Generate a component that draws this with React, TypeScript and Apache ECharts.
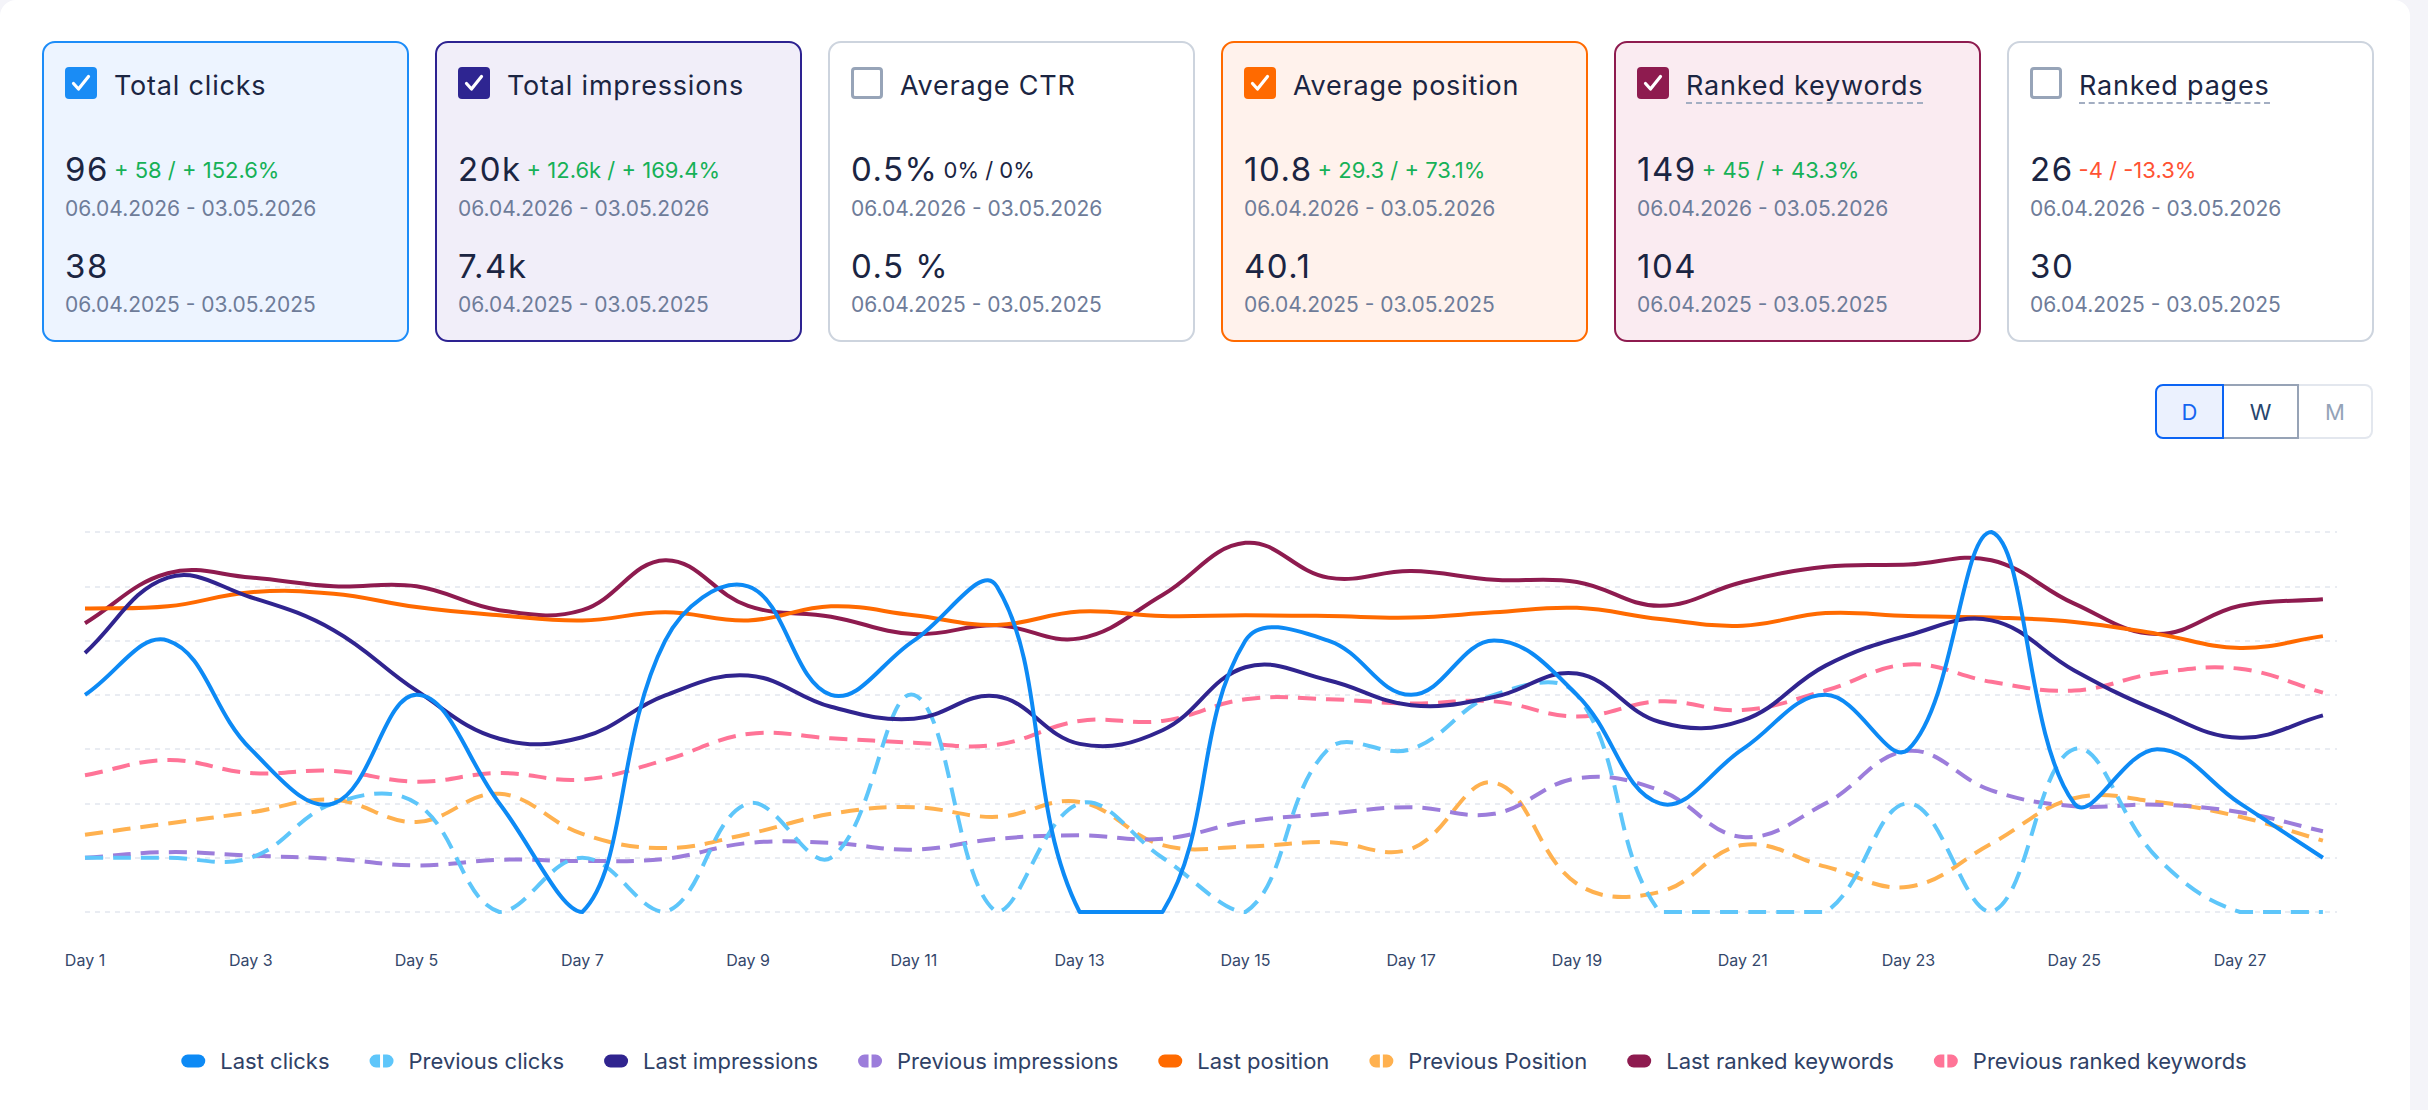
import React, { useEffect, useRef } from 'react';
import * as echarts from 'echarts';

// ---- data -------------------------------------------------------------
const days = [
  'Day 1', 'Day 2', 'Day 3', 'Day 4', 'Day 5', 'Day 6', 'Day 7', 'Day 8', 'Day 9', 'Day 10',
  'Day 11', 'Day 12', 'Day 13', 'Day 14', 'Day 15', 'Day 16', 'Day 17', 'Day 18', 'Day 19', 'Day 20',
  'Day 21', 'Day 22', 'Day 23', 'Day 24', 'Day 25', 'Day 26', 'Day 27', 'Day 28',
];

const lastClicks = [4, 5, 3, 2, 4, 2, 0, 5, 6, 4, 5, 6, 0, 0, 5, 5, 4, 5, 4, 2, 3, 4, 3, 7, 2, 3, 2, 1];
const previousClicks = [1, 1, 1, 2, 2, 0, 1, 0, 2, 1, 4, 0, 2, 1, 0, 3, 3, 4, 4, 0, 0, 0, 2, 0, 3, 1, 0, 0];

const lastImpressions = [818, 1056, 994, 890, 699, 547, 552, 684, 747, 648, 610, 681, 531, 574, 773, 732, 653, 679, 753, 600, 605, 778, 874, 921, 763, 636, 550, 621];
const previousImpressions = [171, 189, 178, 168, 147, 165, 161, 168, 218, 218, 197, 231, 242, 231, 285, 310, 331, 310, 422, 384, 237, 343, 509, 384, 334, 339, 315, 255];

const lastPosition = [10.3, 10.0, 8.1, 8.3, 10.1, 11.2, 11.9, 10.8, 11.9, 10.0, 11.2, 12.5, 10.7, 11.3, 11.2, 11.3, 11.5, 10.8, 10.2, 11.7, 12.6, 10.9, 11.3, 11.5, 12.1, 13.7, 15.6, 14.0];
const previousPosition = [40.7, 39.2, 37.7, 36.0, 39.0, 35.2, 40.6, 42.5, 40.6, 37.9, 37.0, 38.3, 36.3, 42.1, 42.3, 41.7, 42.6, 33.7, 47.3, 48.4, 42.1, 45.0, 47.7, 41.9, 35.8, 36.3, 38.3, 41.5];

const lastKeywords = [133, 156, 154, 150, 150, 139, 139, 162, 141, 136, 128, 132, 126, 146, 170, 154, 157, 153, 152, 141, 152, 159, 160, 162, 142, 128, 141, 144];
const previousKeywords = [63, 70, 64, 65, 60, 64, 61, 70, 82, 80, 78, 77, 88, 88, 98, 98, 96, 97, 90, 97, 93, 102, 114, 106, 102, 110, 112, 101];

const currentRange = '06.04.2026 - 03.05.2026';
const previousRange = '06.04.2025 - 03.05.2025';

const GREEN = '#16b157';
const RED = '#ff5233';
const INK = '#1b2542';
const MUTED = '#6e7c99';

type Card = {
  title: string;
  checked: boolean;
  accent: string;
  bg: string;
  border: string;
  current: string;
  delta: string;
  deltaColor: string;
  previous: string;
  underline: boolean;
};

const cards: Card[] = [
  { title: 'Total clicks', checked: true, accent: '#1a8cf5', bg: '#edf4ff', border: '#1d8cf8', current: '96', delta: '+ 58 / + 152.6%', deltaColor: GREEN, previous: '38', underline: false },
  { title: 'Total impressions', checked: true, accent: '#2e2591', bg: '#f1eef9', border: '#2d2291', current: '20k', delta: '+ 12.6k / + 169.4%', deltaColor: GREEN, previous: '7.4k', underline: false },
  { title: 'Average CTR', checked: false, accent: '#97a4b8', bg: '#ffffff', border: '#cdd4de', current: '0.5%', delta: '0% / 0%', deltaColor: INK, previous: '0.5 %', underline: false },
  { title: 'Average position', checked: true, accent: '#ff6a00', bg: '#fff2ec', border: '#ff6a00', current: '10.8', delta: '+ 29.3 / + 73.1%', deltaColor: GREEN, previous: '40.1', underline: false },
  { title: 'Ranked keywords', checked: true, accent: '#8e1b4f', bg: '#faebf1', border: '#8e1b4f', current: '149', delta: '+ 45 / + 43.3%', deltaColor: GREEN, previous: '104', underline: true },
  { title: 'Ranked pages', checked: false, accent: '#97a4b8', bg: '#ffffff', border: '#cdd4de', current: '26', delta: '-4 / -13.3%', deltaColor: RED, previous: '30', underline: true },
];

type LineDef = { name: string; values: number[]; axis: number; color: string; dashed: boolean };

// drawing order: previous periods underneath, current period on top
const lines: LineDef[] = [
  { name: 'Previous ranked keywords', values: previousKeywords, axis: 3, color: '#ff7497', dashed: true },
  { name: 'Previous Position', values: previousPosition, axis: 2, color: '#ffb14f', dashed: true },
  { name: 'Previous impressions', values: previousImpressions, axis: 1, color: '#9c7ddb', dashed: true },
  { name: 'Previous clicks', values: previousClicks, axis: 0, color: '#5ec6fa', dashed: true },
  { name: 'Last ranked keywords', values: lastKeywords, axis: 3, color: '#8e1b4f', dashed: false },
  { name: 'Last position', values: lastPosition, axis: 2, color: '#ff6a00', dashed: false },
  { name: 'Last impressions', values: lastImpressions, axis: 1, color: '#30248f', dashed: false },
  { name: 'Last clicks', values: lastClicks, axis: 0, color: '#0d8af5', dashed: false },
];

const legendOrder = [
  'Last clicks', 'Previous clicks', 'Last impressions', 'Previous impressions',
  'Last position', 'Previous Position', 'Last ranked keywords', 'Previous ranked keywords',
];

const SOLID_ICON = 'path://M6.5,0H17.5A6.5,6.5,0,0,1,17.5,13H6.5A6.5,6.5,0,0,1,6.5,0Z';
const SPLIT_ICON = 'path://M6.5,0H10.5V13H6.5A6.5,6.5,0,0,1,6.5,0ZM13.5,0H17.5A6.5,6.5,0,0,1,17.5,13H13.5Z';

const TENSION = 0.4;
// the plot area runs a little past the last day
const X_MAX = 27.17;

// Cardinal spline through the points, control points kept inside the plot area
function buildSpline(pts: number[][], area: { x: number; y: number; width: number; height: number }) {
  const n = pts.length;
  const x0 = area.x, x1 = area.x + area.width, y0 = area.y, y1 = area.y + area.height;
  const cap = (v: number, lo: number, hi: number) => Math.max(Math.min(v, hi), lo);
  const cps: { prev: number[]; next: number[] }[] = [];
  for (let i = 0; i < n; i++) {
    const prev = pts[Math.max(0, i - 1)];
    const cur = pts[i];
    const next = pts[Math.min(n - 1, i + 1)];
    const d01 = Math.hypot(cur[0] - prev[0], cur[1] - prev[1]);
    const d12 = Math.hypot(next[0] - cur[0], next[1] - cur[1]);
    const sum = d01 + d12;
    const fa = sum ? (TENSION * d01) / sum : 0;
    const fb = sum ? (TENSION * d12) / sum : 0;
    const dx = next[0] - prev[0];
    const dy = next[1] - prev[1];
    cps.push({
      prev: [cap(cur[0] - fa * dx, x0, x1), cap(cur[1] - fa * dy, y0, y1)],
      next: [cap(cur[0] + fb * dx, x0, x1), cap(cur[1] + fb * dy, y0, y1)],
    });
  }
  let d = `M${pts[0][0]},${pts[0][1]}`;
  for (let i = 1; i < n; i++) {
    const a = cps[i - 1].next;
    const b = cps[i].prev;
    d += ` C${a[0]},${a[1]} ${b[0]},${b[1]} ${pts[i][0]},${pts[i][1]}`;
  }
  return d;
}

function makeRenderer(def: LineDef) {
  return (params: any, api: any) => {
    if (params.dataIndexInside !== 0) return null;
    const pts: number[][] = [];
    for (let j = 0; j < params.dataInsideLength; j++) {
      pts.push(api.coord([api.value(0, j), api.value(1, j)]));
    }
    return {
      type: 'path',
      shape: { pathData: buildSpline(pts, params.coordSys) },
      style: {
        fill: 'none',
        stroke: def.color,
        lineWidth: 4,
        lineDash: def.dashed ? [18, 10] : null,
        lineJoin: 'round',
      },
      silent: true,
    };
  };
}

function Chart() {
  const ref = useRef<HTMLDivElement>(null);
  useEffect(() => {
    if (!ref.current) return;
    const chart = echarts.init(ref.current, undefined, { renderer: 'svg' });
    const byName: Record<string, LineDef> = {};
    lines.forEach((l) => (byName[l.name] = l));
    chart.setOption({
      animation: false,
      textStyle: { fontFamily: 'Inter, sans-serif' },
      grid: { left: 85, right: 91, top: 532, bottom: 198, containLabel: false },
      xAxis: {
        type: 'value',
        min: 0,
        max: X_MAX,
        interval: 2,
        axisLine: { show: false },
        axisTick: { show: false },
        splitLine: { show: false },
        axisLabel: {
          fontSize: 16,
          color: '#34476b',
          margin: 40,
          showMaxLabel: false,
          formatter: (v: number) => (Number.isInteger(v) && days[v] ? days[v] : ''),
        },
      },
      yAxis: [
        {
          type: 'value', min: 0, max: 7, interval: 1,
          axisLine: { show: false }, axisTick: { show: false }, axisLabel: { show: false },
          splitLine: { show: true, lineStyle: { color: '#e9ecf2', width: 2, type: [5, 5] } },
        },
        { type: 'value', min: 0, max: 1200, show: false, splitLine: { show: false } },
        { type: 'value', min: 0, max: 51.1, inverse: true, show: false, splitLine: { show: false } },
        { type: 'value', min: 0, max: 175, show: false, splitLine: { show: false } },
      ],
      legend: {
        data: legendOrder.map((name) => ({
          name,
          icon: byName[name].dashed ? SPLIT_ICON : SOLID_ICON,
          itemStyle: { color: byName[name].color },
        })),
        left: 'center',
        top: 1050,
        padding: 0,
        itemWidth: 24,
        itemHeight: 13,
        itemGap: 40,
        selectedMode: false,
        textStyle: { fontSize: 22, color: '#2f4166', padding: [0, 0, 0, 10] },
      },
      series: lines.map((l) => ({
        type: 'custom',
        name: l.name,
        xAxisIndex: 0,
        yAxisIndex: l.axis,
        data: l.values.map((v, i) => [i, v]),
        encode: { x: 0, y: 1 },
        itemStyle: { color: l.color },
        renderItem: makeRenderer(l),
      })),
    });
    return () => chart.dispose();
  }, []);
  return <div ref={ref} style={{ position: 'absolute', left: 0, top: 0, width: 2428, height: 1110 }} />;
}

function CheckBox({ checked, color }: { checked: boolean; color: string }) {
  return (
    <div
      style={{
        position: 'absolute', left: 23, top: 26, width: 32, height: 32, boxSizing: 'border-box',
        borderRadius: 4, background: checked ? color : '#ffffff',
        border: checked ? 'none' : `3px solid ${color}`,
      }}
    >
      {checked && (
        <svg width="32" height="32" viewBox="0 0 32 32" style={{ display: 'block' }}>
          <path d="M8.5 16.5 L13.5 22 L23.5 9.5" fill="none" stroke="#ffffff" strokeWidth="3.2" strokeLinecap="round" strokeLinejoin="round" />
        </svg>
      )}
    </div>
  );
}

function StatCard({ card, left }: { card: Card; left: number }) {
  const big: React.CSSProperties = { fontSize: 33, letterSpacing: 1.5 };
  return (
    <div
      style={{
        position: 'absolute', left, top: 41, width: 367, height: 301, boxSizing: 'border-box',
        border: `2px solid ${card.border}`, borderRadius: 13, background: card.bg, color: INK,
      }}
    >
      <div style={{ position: 'absolute', left: -2, top: -2, width: 367, height: 301 }}>
        <CheckBox checked={card.checked} color={card.accent} />
        <div style={{ position: 'absolute', left: 72, top: 30.5, fontSize: 27, lineHeight: '27px', letterSpacing: 0.8, whiteSpace: 'nowrap' }}>
          <span style={card.underline ? { display: 'inline-block', paddingBottom: 3, borderBottom: '2px dashed #a3aec2' } : {}}>
            {card.title}
          </span>
        </div>
        <div style={{ position: 'absolute', left: 23, top: 112, fontSize: 33, lineHeight: '33px', whiteSpace: 'nowrap' }}>
          <span style={big}>{card.current}</span>
          <span style={{ fontSize: 22, marginLeft: 5, color: card.deltaColor, position: 'relative', top: -3 }}>{card.delta}</span>
        </div>
        <div style={{ position: 'absolute', left: 23, top: 156.5, fontSize: 21, lineHeight: '21px', color: MUTED, whiteSpace: 'nowrap' }}>
          {currentRange}
        </div>
        <div style={{ position: 'absolute', left: 23, top: 209, fontSize: 33, lineHeight: '33px', whiteSpace: 'nowrap' }}>
          <span style={big}>{card.previous}</span>
        </div>
        <div style={{ position: 'absolute', left: 23, top: 252.5, fontSize: 21, lineHeight: '21px', color: MUTED, whiteSpace: 'nowrap' }}>
          {previousRange}
        </div>
      </div>
    </div>
  );
}

function PeriodSwitch() {
  const base: React.CSSProperties = {
    height: 55, boxSizing: 'border-box', display: 'flex', alignItems: 'center', justifyContent: 'center',
    fontSize: 22,
  };
  return (
    <div style={{ position: 'absolute', left: 2155, top: 384, display: 'flex' }}>
      <div style={{ ...base, width: 69, border: '2px solid #0b64f4', borderRadius: '8px 0 0 8px', background: '#ebf1fe', color: '#1565f0' }}>D</div>
      <div style={{ ...base, width: 75, border: '2px solid #97a3b6', borderLeft: 'none', background: '#ffffff', color: '#27466e' }}>W</div>
      <div style={{ ...base, width: 74, border: '2px solid #e3e7ee', borderLeft: 'none', borderRadius: '0 8px 8px 0', background: '#ffffff', color: '#94a3b8' }}>M</div>
    </div>
  );
}

export default function App() {
  return (
    <div
      style={{
        position: 'absolute', left: 0, top: 0, width: 2428, height: 1110, overflow: 'hidden',
        background: '#f4f4f9', fontFamily: 'Inter, "Noto Sans", sans-serif',
      }}
    >
      <div style={{ position: 'absolute', left: 0, top: 0, width: 2410, height: 1140, background: '#ffffff', borderRadius: 16 }} />
      <Chart />
      {cards.map((c, i) => (
        <StatCard key={c.title} card={c} left={42 + i * 393} />
      ))}
      <PeriodSwitch />
    </div>
  );
}
